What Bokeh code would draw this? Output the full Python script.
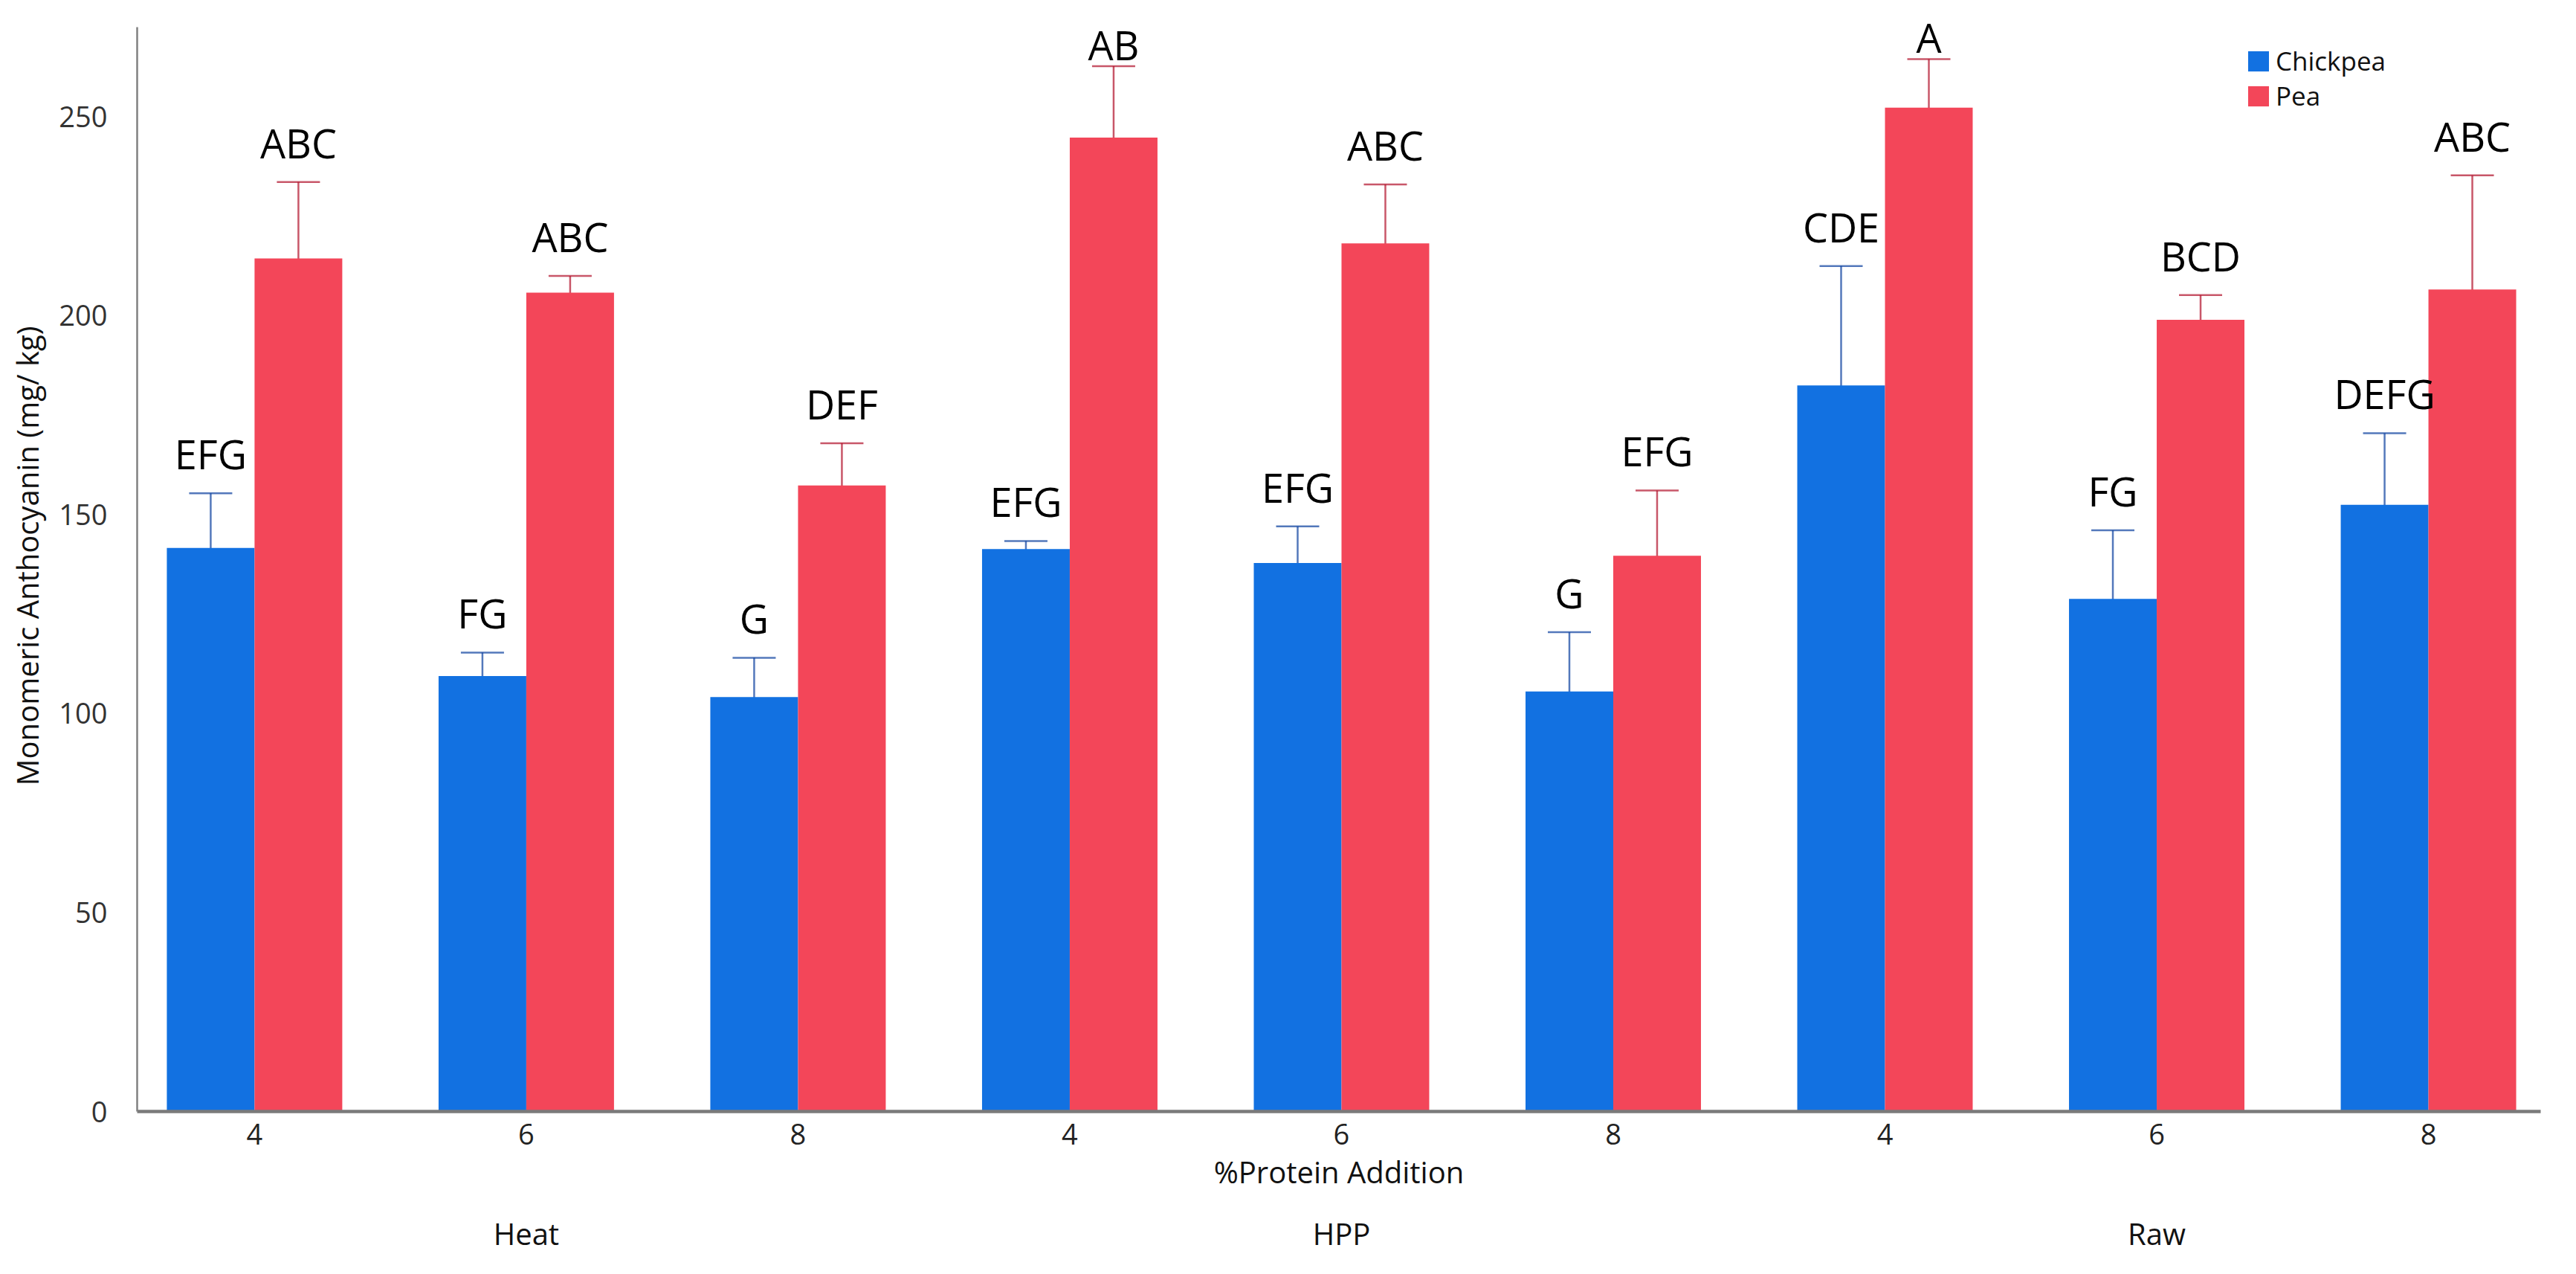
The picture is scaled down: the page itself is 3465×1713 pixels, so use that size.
from bokeh.plotting import figure
from bokeh.models import (ColumnDataSource, Whisker, TeeHead, LabelSet, FixedTicker,
                          LinearAxis, Range1d)
from bokeh.core.properties import value
from bokeh.embed import file_html
from bokeh.resources import INLINE

# ---- data ----
treatments = ["Heat", "HPP", "Raw"]
protein_labels = ["4", "6", "8", "4", "6", "8", "4", "6", "8"]
chickpea = [141.6, 109.4, 104.1, 141.3, 137.8, 105.5, 182.4, 128.8, 152.4]
chickpea_err = [13.7, 5.9, 9.9, 2.0, 9.2, 14.9, 30.0, 17.2, 18.0]
chickpea_letters = ["EFG", "FG", "G", "EFG", "EFG", "G", "CDE", "FG", "DEFG"]
pea = [214.3, 205.7, 157.3, 244.7, 218.1, 139.6, 252.2, 198.9, 206.5]
pea_err = [19.2, 4.2, 10.6, 17.9, 14.8, 16.4, 12.2, 6.2, 28.7]
pea_letters = ["ABC", "ABC", "DEF", "AB", "ABC", "EFG", "A", "BCD", "ABC"]
y_ticks = [0, 50, 100, 150, 200, 250]

BLUE = "#1271E1"
RED = "#F34659"
FONT = "Open Sans"
BW = 0.3228
LABEL_GAP = 6.0      # data units between error cap and letter baseline
LABEL_MAX = 263.0    # letters are squeezed closer to the cap near the top
LABEL_MIN_GAP = 1.5

n = len(chickpea)
idx = list(range(n))
x_cp = [i - BW / 2 for i in idx]
x_pea = [i + BW / 2 for i in idx]


def make_source(xs, means, errs, letters):
    upper = [m + e for m, e in zip(means, errs)]
    lower = [m - e for m, e in zip(means, errs)]
    ly = [max(min(u + LABEL_GAP, LABEL_MAX), u + LABEL_MIN_GAP) for u in upper]
    return ColumnDataSource(dict(x=xs, top=means, upper=upper, lower=lower,
                                 ly=ly, letters=letters))


src_cp = make_source(x_cp, chickpea, chickpea_err, chickpea_letters)
src_pea = make_source(x_pea, pea, pea_err, pea_letters)

p = figure(width=3449, height=1697, output_backend="svg", toolbar_location=None,
           x_range=Range1d(-0.432, 8.413), y_range=Range1d(0, 279.15))
p.min_border_left = 184
p.min_border_right = 32
p.min_border_top = 0
p.min_border_bottom = 203
p.outline_line_color = None
p.xgrid.visible = False
p.ygrid.visible = False
p.background_fill_color = "white"

p.vbar(x="x", top="top", width=BW, source=src_cp, fill_color=BLUE,
       line_color=None, legend_label="Chickpea")
p.vbar(x="x", top="top", width=BW, source=src_pea, fill_color=RED,
       line_color=None, legend_label="Pea")

for src, col in ((src_cp, "#0A3E9E"), (src_pea, "#B0102A")):
    w = Whisker(base="x", upper="upper", lower="lower", source=src,
                line_color=col, line_alpha=0.7, line_width=2.5,
                upper_head=TeeHead(size=58, line_color=col, line_alpha=0.7, line_width=2.5),
                lower_head=TeeHead(size=58, line_color=col, line_alpha=0.7, line_width=2.5))
    p.add_layout(w)
    ls = LabelSet(x="x", y="ly", text="letters", source=src,
                  text_align="center", text_baseline="alphabetic",
                  text_font=value(FONT), text_font_size=value("54px"),
                  text_color=value("black"))
    p.add_layout(ls)

# x axis (protein %)
xa = p.xaxis[0]
xa.ticker = FixedTicker(ticks=idx)
xa.major_label_overrides = {i: lab for i, lab in zip(idx, protein_labels)}
xa.axis_label = "%Protein Addition"
xa.axis_line_color = "#7a7a7a"
xa.axis_line_width = 4.5
xa.major_tick_line_color = None
xa.minor_tick_line_color = None
xa.major_label_standoff = 10
xa.major_label_text_font = FONT
xa.major_label_text_font_size = "38px"
xa.major_label_text_color = "#222222"
xa.axis_label_text_font = FONT
xa.axis_label_text_font_size = "40px"
xa.axis_label_text_font_style = "normal"
xa.axis_label_text_color = "#111111"
xa.axis_label_standoff = 6

# group axis (treatment)
ga = LinearAxis(ticker=FixedTicker(ticks=[1, 4, 7]),
                major_label_overrides={1: treatments[0], 4: treatments[1], 7: treatments[2]})
ga.axis_line_color = None
ga.major_tick_line_color = None
ga.minor_tick_line_color = None
ga.major_label_standoff = 19
ga.major_label_text_font = FONT
ga.major_label_text_font_size = "40px"
ga.major_label_text_color = "#111111"
p.add_layout(ga, "below")

# y axis
ya = p.yaxis[0]
ya.ticker = FixedTicker(ticks=y_ticks)
ya.bounds = (0, 272.4)
ya.axis_label = "Monomeric Anthocyanin (mg/ kg)"
ya.axis_line_color = "#808080"
ya.axis_line_width = 2.5
ya.major_tick_line_color = None
ya.minor_tick_line_color = None
ya.major_label_standoff = 34
ya.major_label_text_font = FONT
ya.major_label_text_font_size = "38px"
ya.major_label_text_color = "#333333"
ya.axis_label_text_font = FONT
ya.axis_label_text_font_size = "40px"
ya.axis_label_text_font_style = "normal"
ya.axis_label_text_color = "#111111"
ya.axis_label_standoff = 12

lg = p.legend[0]
lg.location = (2836, 1342)
lg.padding = 0
lg.margin = 0
lg.border_line_color = None
lg.background_fill_alpha = 0
lg.glyph_width = 35
lg.glyph_height = 34
lg.label_height = 34
lg.spacing = 0
lg.label_standoff = 6
lg.label_text_font = FONT
lg.label_text_font_size = "35px"
lg.label_text_color = "#111111"

open("out.html", "w").write(file_html(p, INLINE))
